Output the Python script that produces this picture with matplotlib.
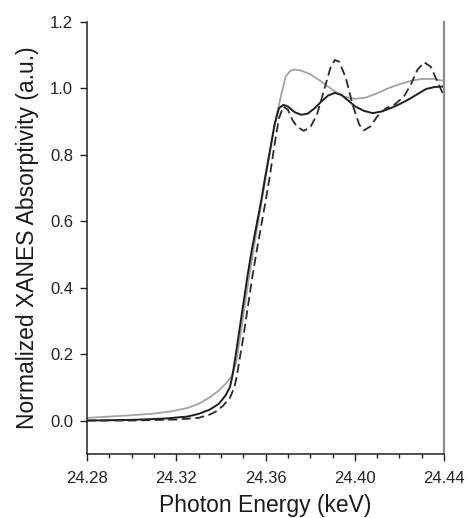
"""Normalized XANES spectra near the 24.35 keV edge (three samples)."""

import matplotlib
matplotlib.use("Agg")
import matplotlib.pyplot as plt
from matplotlib.ticker import MultipleLocator

plt.rcParams["font.family"] = ["Liberation Sans", "DejaVu Sans"]

# --- data ------------------------------------------------------------------
gray_energy = [24.280, 24.290, 24.300, 24.310, 24.318, 24.325, 24.330, 24.335,
               24.339, 24.342, 24.345, 24.347, 24.349, 24.351, 24.353, 24.355,
               24.357, 24.359, 24.361, 24.363, 24.365, 24.367, 24.369, 24.371,
               24.373, 24.376, 24.380, 24.385, 24.390, 24.395, 24.400, 24.405,
               24.410, 24.415, 24.420, 24.425, 24.430, 24.435, 24.440]
gray_mu = [0.008, 0.012, 0.016, 0.021, 0.028, 0.038, 0.050, 0.070,
           0.090, 0.110, 0.135, 0.180, 0.270, 0.360, 0.450, 0.530,
           0.610, 0.690, 0.770, 0.850, 0.920, 0.980, 1.035, 1.052,
           1.056, 1.053, 1.042, 1.020, 0.995, 0.975, 0.968, 0.972,
           0.985, 1.000, 1.012, 1.022, 1.028, 1.028, 1.022]

solid_energy = [24.280, 24.300, 24.315, 24.325, 24.330, 24.335, 24.339, 24.342,
                24.344, 24.345, 24.346, 24.348, 24.350, 24.352, 24.354, 24.356,
                24.358, 24.360, 24.362, 24.364, 24.366, 24.368, 24.370, 24.373,
                24.376, 24.379, 24.382, 24.385, 24.388, 24.391, 24.394, 24.397,
                24.400, 24.404, 24.408, 24.412, 24.416, 24.420, 24.424, 24.428,
                24.432, 24.436, 24.440]
solid_mu = [0.000, 0.002, 0.006, 0.012, 0.020, 0.033, 0.050, 0.075,
            0.100, 0.130, 0.170, 0.260, 0.350, 0.440, 0.520, 0.590,
            0.660, 0.740, 0.814, 0.890, 0.940, 0.950, 0.945, 0.928,
            0.920, 0.924, 0.940, 0.960, 0.978, 0.986, 0.980, 0.963,
            0.946, 0.932, 0.925, 0.930, 0.940, 0.952, 0.966, 0.982,
            0.998, 1.004, 1.005]

dashed_energy = [24.280, 24.300, 24.320, 24.330, 24.335, 24.338, 24.341, 24.344,
                 24.346, 24.347, 24.348, 24.350, 24.352, 24.354, 24.356, 24.358,
                 24.360, 24.362, 24.364, 24.366, 24.368, 24.370, 24.372, 24.374,
                 24.377, 24.380, 24.383, 24.386, 24.389, 24.391, 24.393, 24.396,
                 24.399, 24.402, 24.404, 24.407, 24.410, 24.414, 24.418, 24.422,
                 24.425, 24.428, 24.431, 24.434, 24.437, 24.440]
dashed_mu = [0.000, 0.000, 0.003, 0.008, 0.018, 0.028, 0.045, 0.068,
             0.100, 0.130, 0.170, 0.250, 0.340, 0.430, 0.510, 0.585,
             0.660, 0.740, 0.830, 0.910, 0.945, 0.935, 0.905, 0.885,
             0.872, 0.882, 0.920, 0.990, 1.060, 1.085, 1.080, 1.030,
             0.950, 0.890, 0.873, 0.885, 0.915, 0.940, 0.952, 0.975,
             1.010, 1.055, 1.078, 1.065, 1.020, 0.975]

x_ticks = [24.28, 24.32, 24.36, 24.40, 24.44]
y_ticks = [0.0, 0.2, 0.4, 0.6, 0.8, 1.0, 1.2]


def main() -> None:
    fig = plt.figure(figsize=(4.68, 5.18), dpi=100)
    ax = fig.add_axes([0.186, 0.124, 0.763, 0.834])

    ax.plot(gray_energy, gray_mu, color="#a3a3a3", linewidth=1.3)
    ax.plot(solid_energy, solid_mu, color="#1e1e1e", linewidth=1.4)
    ax.plot(dashed_energy, dashed_mu, color="#2a2a2a", linewidth=1.3,
            linestyle=(0, (5, 2.5)))

    ax.set_xlim(24.28, 24.44)
    ax.set_ylim(-0.1, 1.2)
    ax.set_xticks(x_ticks)
    ax.set_xticklabels([f"{v:.2f}" for v in x_ticks])
    ax.xaxis.set_minor_locator(MultipleLocator(0.01))
    ax.set_yticks(y_ticks)
    ax.set_yticklabels([f"{v:.1f}" for v in y_ticks])

    ax.tick_params(axis="both", which="major", direction="out", length=5,
                   width=1.0, labelsize=12, colors="#222222")
    ax.tick_params(axis="x", which="major", pad=7.5)
    ax.tick_params(axis="y", which="major", pad=5)
    ax.tick_params(axis="x", which="minor", direction="out", length=3,
                   width=1.0, colors="#222222")

    ax.spines["top"].set_visible(False)
    ax.spines["right"].set_color("#8c8c8c")
    ax.spines["right"].set_linewidth(1.6)
    for side in ("left", "bottom"):
        ax.spines[side].set_color("#222222")
        ax.spines[side].set_linewidth(1.1)

    ax.set_xlabel("Photon Energy (keV)", fontsize=16.5, color="#1a1a1a",
                  labelpad=5.5)
    ax.set_ylabel("Normalized XANES Absorptivity (a.u.)", fontsize=16.5,
                  color="#1a1a1a", labelpad=8)

    fig.savefig("out.png", dpi=100)
    plt.close(fig)


if __name__ == "__main__":
    main()
